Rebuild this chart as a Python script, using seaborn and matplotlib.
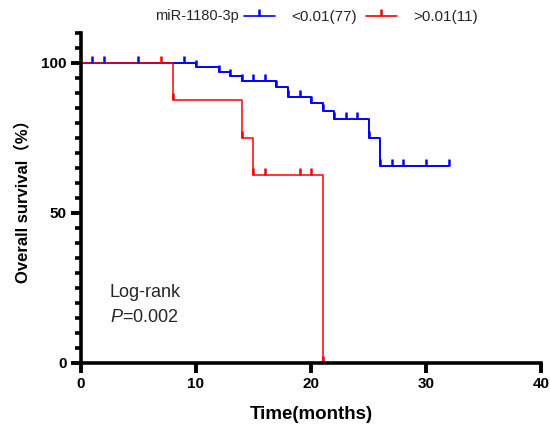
import numpy as np
import pandas as pd
import matplotlib
matplotlib.use("Agg")
import matplotlib.pyplot as plt
from matplotlib.path import Path
from matplotlib.markers import MarkerStyle
from matplotlib.lines import Line2D
import seaborn as sns

# Kaplan-Meier step data (time in months, survival in %)
low_times = [0, 10, 12, 13, 14, 17, 18, 20, 21, 22, 25, 26, 32]
low_surv = [100, 98.5, 97.0, 95.5, 93.8, 92.1, 88.6, 86.6, 83.9, 81.3, 75.0, 65.7, 65.7]
low_censor = [1, 2, 5, 9, 10, 12, 13, 14, 15, 16, 17, 18, 19, 20, 21, 22, 23,
              24, 25, 26, 27, 28, 30, 32]

high_times = [0, 8, 14, 15, 21]
high_surv = [100, 87.5, 75.0, 62.5, 0]
high_censor = [7, 8, 14, 15, 16, 19, 20, 21]

group_labels = ["<0.01(77)", ">0.01(11)"]
group_colors = ["#0000FF", "#FF0000"]
legend_title = "miR-1180-3p"

sns.set_theme(style="ticks")
plt.rcParams["font.family"] = ["Liberation Sans", "Noto Sans CJK SC", "DejaVu Sans"]
plt.rcParams["mathtext.fontset"] = "custom"
plt.rcParams["mathtext.rm"] = "Liberation Sans"
plt.rcParams["mathtext.it"] = "Liberation Sans:italic"


def level_at(times, surv, t):
    idx = np.searchsorted(times, t, side="right") - 1
    return surv[idx]


frames = []
for lab, tt, ss in [(group_labels[0], low_times, low_surv),
                    (group_labels[1], high_times, high_surv)]:
    frames.append(pd.DataFrame({"time": tt, "surv": ss, "group": lab}))
curves = pd.concat(frames, ignore_index=True)

fig = plt.figure(figsize=(5.5, 4.32), dpi=100)
ax = fig.add_axes([0.147, 0.160, 0.837, 0.764])

palette = dict(zip(group_labels, group_colors))
sns.lineplot(data=curves, x="time", y="surv", hue="group", palette=palette,
             drawstyle="steps-post", estimator=None, sort=False, ax=ax,
             legend=False)
for line, lw in zip(ax.get_lines(), [1.4, 1.1]):
    line.set_linewidth(lw)
    line.set_clip_on(False)

# upward censor tick
tick = MarkerStyle(Path([(0, 0), (0, 1)], [Path.MOVETO, Path.LINETO]))

for tt, ss, cens, col in [(low_times, low_surv, low_censor, group_colors[0]),
                          (high_times, high_surv, high_censor, group_colors[1])]:
    lv = [level_at(np.array(tt), ss, c) for c in cens]
    ax.plot(cens, lv, ls="none", marker=tick, ms=10, mew=1.8, color=col,
            clip_on=False)

ax.set_xlim(0, 40)
ax.set_ylim(0, 110)
ax.set_xticks([0, 10, 20, 30, 40])
ax.set_yticks([0, 50, 100])
ax.set_yticks(np.arange(0, 111, 5), minor=True)
sns.despine(ax=ax)
for s in ["left", "bottom"]:
    ax.spines[s].set_linewidth(2.6)
    ax.spines[s].set_color("black")
ax.tick_params(axis="both", which="major", length=7, width=2.8, color="black",
               labelsize=11, pad=3)
ax.tick_params(axis="y", which="minor", length=4, width=2.6, color="black")
for lab in ax.get_xticklabels() + ax.get_yticklabels():
    lab.set_fontweight("bold")
    lab.set_color("black")

ax.set_xlabel("Time(months)", fontsize=13.5, fontweight="bold", labelpad=11,
              color="black")
ax.set_ylabel("Overall survival（%）", fontsize=12, fontweight="bold",
              labelpad=7, color="black")

ax.text(2.5, 23.5, "Log-rank", fontsize=13, va="center", ha="left")
ax.text(2.5, 15.0, r"$\mathit{P}$=0.002", fontsize=13, va="center", ha="left")

fig.text(155 / 550, 1 - 16 / 432, legend_title, fontsize=10.5, va="center",
         ha="left")
handles = [Line2D([0], [0], color=c, lw=1.2, marker=tick, ms=10, mew=1.8)
           for c in group_colors]
fig.legend(handles, group_labels, loc="center left",
           bbox_to_anchor=(244 / 550, 1 - 17 / 432), ncol=2, frameon=False,
           fontsize=11, handlelength=2.0, handletextpad=1.1,
           columnspacing=0.6, borderpad=0, borderaxespad=0, numpoints=1)

fig.savefig("out.png", dpi=100)
